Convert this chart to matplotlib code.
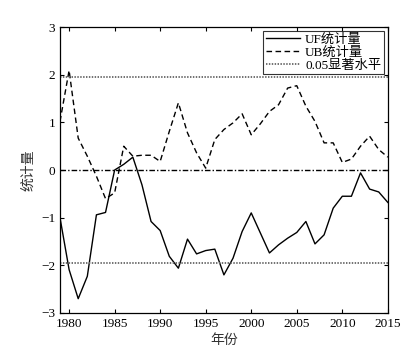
import matplotlib
matplotlib.use("Agg")
import matplotlib.pyplot as plt
import numpy as np

plt.rcParams['font.family'] = ['Liberation Serif', 'Noto Sans CJK SC']
plt.rcParams['axes.unicode_minus'] = True

years = list(range(1979, 2016))
uf = [-1.0, -2.09, -2.70, -2.23, -0.94, -0.89, 0.0, 0.12, 0.27, -0.31,
      -1.08, -1.27, -1.81, -2.06, -1.45, -1.76, -1.69, -1.66, -2.20, -1.85,
      -1.29, -0.90, -1.32, -1.74, -1.57, -1.43, -1.31, -1.08, -1.55, -1.36,
      -0.80, -0.55, -0.55, -0.06, -0.40, -0.46, -0.68]
ub = [1.02, 2.09, 0.67, 0.29, -0.13, -0.60, -0.48, 0.50, 0.29, 0.31,
      0.31, 0.18, 0.81, 1.41, 0.78, 0.36, 0.04, 0.64, 0.85, 0.99,
      1.18, 0.74, 0.97, 1.23, 1.37, 1.72, 1.77, 1.34, 1.02, 0.57,
      0.57, 0.16, 0.23, 0.50, 0.71, 0.43, 0.27]
sig = 1.96
xticks = [1980, 1985, 1990, 1995, 2000, 2005, 2010, 2015]
yticks = [-3, -2, -1, 0, 1, 2, 3]

fig = plt.figure(figsize=(4.04, 3.61), dpi=100)
ax = fig.add_axes([0.1485, 0.133, 0.8115, 0.792])

ax.plot(years, uf, color='black', lw=1.0, ls='-', label='UF统计量')
ax.plot(years, ub, color='black', lw=1.0, ls=(0, (4, 2.5)), label='UB统计量')
ax.axhline(sig, color='#666666', lw=1.3, ls=(0, (0.8, 0.8)), label='0.05显著水平')
ax.axhline(-sig, color='#666666', lw=1.3, ls=(0, (0.8, 0.8)))
ax.axhline(0, color='black', lw=1.0, ls=(0, (4, 1.5, 1, 1.5)))

ax.set_xlim(1979, 2015)
ax.set_ylim(-3, 3)
ax.set_xticks(xticks)
ax.set_yticks(yticks)
ax.tick_params(direction='in', top=True, right=True, labelsize=9.5, length=3, width=0.8)
ax.set_xlabel('年份', fontsize=10, color='#333333', labelpad=3)
ax.set_ylabel('统计量', fontsize=10, color='#333333', labelpad=4)
for sp in ax.spines.values():
    sp.set_linewidth(0.9)

leg = ax.legend(loc='upper right', fontsize=9.5, frameon=True, fancybox=False,
                edgecolor='black', handlelength=2.6, borderpad=0.2,
                labelspacing=0.05, handletextpad=0.4, borderaxespad=0.3)
leg.get_frame().set_linewidth(0.8)

fig.savefig('out.png', dpi=100)
